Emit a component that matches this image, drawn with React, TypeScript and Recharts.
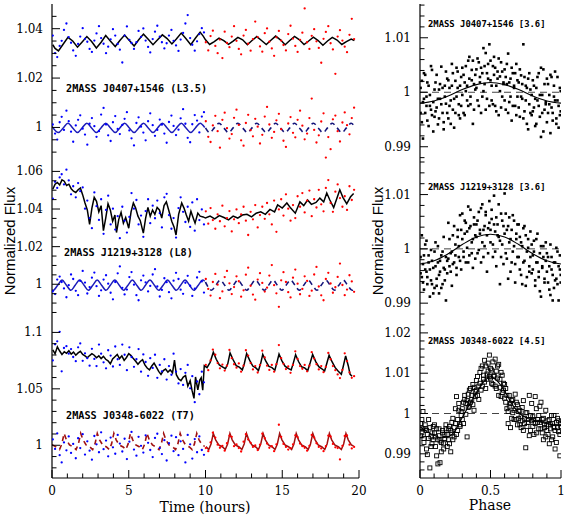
import React from 'react';
import { ComposedChart, Scatter, Line, XAxis, YAxis, ReferenceLine } from 'recharts';

// observation times (hours), first and second half of the run
const tBlue = [0.05, 0.2, 0.34, 0.5, 0.63, 0.78, 0.94, 1.09, 1.24, 1.38, 1.55, 1.7, 1.84, 2.0, 2.15, 2.3, 2.45, 2.6, 2.76, 2.9, 3.06, 3.2, 3.36, 3.52, 3.66, 3.82, 3.97, 4.12, 4.28, 4.42, 4.58, 4.73, 4.88, 5.04, 5.18, 5.34, 5.5, 5.64, 5.8, 5.95, 6.1, 6.26, 6.4, 6.56, 6.71, 6.86, 7.02, 7.16, 7.32, 7.47, 7.62, 7.78, 7.92, 8.08, 8.24, 8.38, 8.54, 8.69, 8.84, 9.0, 9.14, 9.3, 9.45, 9.6, 9.76, 9.9];
const tRed = [10.02, 10.18, 10.33, 10.48, 10.64, 10.79, 10.94, 11.1, 11.25, 11.4, 11.56, 11.71, 11.86, 12.02, 12.17, 12.32, 12.48, 12.63, 12.78, 12.94, 13.09, 13.24, 13.4, 13.55, 13.7, 13.86, 14.01, 14.16, 14.32, 14.47, 14.62, 14.78, 14.93, 15.08, 15.24, 15.39, 15.54, 15.7, 15.85, 16.0, 16.16, 16.31, 16.46, 16.62, 16.77, 16.92, 17.08, 17.23, 17.38, 17.54, 17.69, 17.84, 18.0, 18.15, 18.3, 18.46, 18.61, 18.76, 18.92, 19.07, 19.22, 19.38, 19.53, 19.68];

// ---- 2MASS J0407+1546 ----
const j0407BlueHi = [1.0372, 1.0301, 1.0285, 1.033, 1.0351, 1.0395, 1.0421, 1.0366, 1.0343, 1.0312, 1.029, 1.0338, 1.0368, 1.0402, 1.0359, 1.0347, 1.0318, 1.0306, 1.0352, 1.0381, 1.041, 1.0362, 1.0339, 1.0301, 1.0327, 1.0357, 1.0398, 1.0372, 1.0338, 1.0315, 1.0263, 1.0372, 1.0409, 1.0355, 1.0342, 1.0318, 1.0345, 1.0391, 1.0367, 1.0401, 1.0352, 1.0326, 1.0304, 1.0358, 1.0388, 1.0412, 1.0368, 1.0345, 1.032, 1.0341, 1.0372, 1.0395, 1.0351, 1.0332, 1.031, 1.0356, 1.0383, 1.0421, 1.0455, 1.0362, 1.0335, 1.0311, 1.0349, 1.0378, 1.0402, 1.0385];
const j0407RedHi = [1.0345, 1.0312, 1.037, 1.0392, 1.033, 1.0301, 1.0356, 1.0281, 1.0388, 1.0342, 1.0325, 1.0368, 1.041, 1.0351, 1.0318, 1.0296, 1.0372, 1.0395, 1.0339, 1.0311, 1.0358, 1.0429, 1.0366, 1.0328, 1.0307, 1.0382, 1.0401, 1.0347, 1.032, 1.029, 1.0365, 1.0391, 1.0352, 1.0334, 1.0312, 1.0378, 1.0412, 1.036, 1.033, 1.0306, 1.0355, 1.0384, 1.0482, 1.0345, 1.0318, 1.0371, 1.0398, 1.0349, 1.0322, 1.0262, 1.0359, 1.0387, 1.041, 1.0341, 1.0316, 1.0217, 1.0368, 1.0394, 1.0352, 1.0327, 1.0305, 1.0375, 1.044, 1.0358];
const j0407BlueLo = [1.0012, 0.9975, 0.9951, 1.0021, 1.0043, 0.999, 1.0068, 1.0025, 0.9983, 0.9942, 1.0008, 1.0031, 1.0049, 0.9995, 0.9971, 0.993, 1.0015, 1.0038, 1.0005, 0.9962, 0.9985, 1.0052, 1.0079, 1.0012, 0.9968, 0.9945, 1.0021, 1.0046, 0.9994, 0.9973, 1.001, 1.0035, 1.0062, 0.9988, 0.9956, 0.9927, 1.0018, 1.0041, 1.0003, 0.9979, 0.9948, 1.0025, 1.0057, 1.0009, 0.9966, 0.999, 1.0032, 1.0011, 0.9975, 0.9938, 1.0022, 1.0048, 1.0006, 0.9969, 0.9991, 1.0037, 1.0074, 1.0015, 0.9958, 0.994, 1.0013, 1.005, 1.0028, 0.998, 1.0044, 1.0062];
const j0407RedLo = [1.0025, 0.9962, 0.9941, 1.0008, 1.0047, 0.9985, 0.9918, 1.0031, 1.006, 0.9997, 0.9955, 0.9973, 1.0039, 1.0072, 1.001, 0.9948, 0.9926, 1.0018, 1.0051, 0.9989, 0.9964, 1.0035, 1.0003, 0.9935, 0.997, 1.0044, 1.0083, 1.0012, 0.9958, 0.9982, 1.0029, 1.0055, 0.9993, 0.9946, 0.9921, 1.0016, 1.0042, 0.9978, 0.996, 1.0031, 1.0068, 1.0007, 0.9952, 0.9975, 1.0038, 1.0117, 0.999, 0.9939, 0.9968, 1.0024, 1.0057, 0.9878, 0.9961, 0.9912, 1.0033, 1.0048, 0.9985, 0.9943, 1.002, 1.0061, 1.0009, 0.9972, 1.0038, 1.008];
const j0407Trend = [[0.05, 1.0335], [0.2, 1.032], [0.42, 1.031], [0.7, 1.0335], [1.04, 1.0365], [1.35, 1.035], [1.66, 1.0325], [1.95, 1.0345], [2.27, 1.0368], [2.58, 1.0348], [2.89, 1.0322], [3.2, 1.0345], [3.5, 1.0372], [3.8, 1.035], [4.12, 1.0328], [4.42, 1.0352], [4.73, 1.0374], [5.04, 1.0352], [5.35, 1.033], [5.65, 1.0355], [5.96, 1.0378], [6.27, 1.0357], [6.58, 1.0335], [6.88, 1.0355], [7.19, 1.0375], [7.5, 1.036], [7.81, 1.0338], [8.1, 1.0358], [8.42, 1.0382], [8.72, 1.036], [9.04, 1.0335], [9.35, 1.0362], [9.65, 1.0386], [9.85, 1.037], [10.0, 1.0355], [10.27, 1.0336], [10.57, 1.0348], [10.88, 1.0362], [11.19, 1.0352], [11.5, 1.0337], [11.8, 1.035], [12.11, 1.0365], [12.42, 1.0355], [12.73, 1.0335], [13.03, 1.0352], [13.34, 1.0368], [13.65, 1.0352], [13.96, 1.0336], [14.26, 1.0353], [14.57, 1.037], [14.88, 1.0355], [15.19, 1.0335], [15.49, 1.0352], [15.8, 1.0369], [16.1, 1.0356], [16.42, 1.0336], [16.72, 1.035], [17.03, 1.0366], [17.34, 1.0352], [17.65, 1.0333], [17.95, 1.035], [18.26, 1.0365], [18.57, 1.0354], [18.88, 1.0336], [19.18, 1.0348], [19.49, 1.0358], [19.7, 1.0352]];
const j0407FitA = [[0, 1.0004], [0.42, 0.9979], [0.73, 0.9998], [1.04, 1.0017], [1.35, 0.9998], [1.66, 0.9979], [1.96, 0.9998], [2.27, 1.0017], [2.58, 0.9998], [2.89, 0.9979], [3.19, 0.9998], [3.5, 1.0017], [3.81, 0.9998], [4.12, 0.9979], [4.42, 0.9998], [4.73, 1.0017], [5.04, 0.9998], [5.35, 0.9979], [5.65, 0.9998], [5.96, 1.0017], [6.27, 0.9998], [6.58, 0.9979], [6.88, 0.9998], [7.19, 1.0017], [7.5, 0.9998], [7.81, 0.9979], [8.11, 0.9998], [8.42, 1.0017], [8.73, 0.9998], [9.04, 0.9979], [9.34, 0.9998], [9.65, 1.0017], [9.95, 1.0]];
const j0407FitB = [[10.0, 0.9998], [10.27, 0.9979], [10.57, 0.9998], [10.88, 1.0017], [11.19, 0.9998], [11.5, 0.9979], [11.8, 0.9998], [12.11, 1.0017], [12.42, 0.9998], [12.73, 0.9979], [13.03, 0.9998], [13.34, 1.0017], [13.65, 0.9998], [13.96, 0.9979], [14.26, 0.9998], [14.57, 1.0017], [14.88, 0.9998], [15.19, 0.9979], [15.49, 0.9998], [15.8, 1.0017], [16.11, 0.9998], [16.42, 0.9979], [16.72, 0.9998], [17.03, 1.0017], [17.34, 0.9998], [17.65, 0.9979], [17.95, 0.9998], [18.26, 1.0017], [18.57, 0.9998], [18.88, 0.9979], [19.18, 0.9998], [19.49, 1.0017], [19.7, 1.0004]];

// ---- 2MASS J1219+3128 ----
const j1219BlueHi = [1.0455, 1.0545, 1.0512, 1.0568, 1.0585, 1.0531, 1.0609, 1.0552, 1.0478, 1.0521, 1.0462, 1.0538, 1.0495, 1.0515, 1.0402, 1.0445, 1.0352, 1.0298, 1.0488, 1.0415, 1.0342, 1.0452, 1.0268, 1.0395, 1.0471, 1.0318, 1.0402, 1.0291, 1.0362, 1.0245, 1.0412, 1.0338, 1.0275, 1.0358, 1.0485, 1.0402, 1.0448, 1.0318, 1.0365, 1.0252, 1.0389, 1.0452, 1.0325, 1.0418, 1.0351, 1.0445, 1.0378, 1.0302, 1.0462, 1.0481, 1.0368, 1.0295, 1.0352, 1.0248, 1.0405, 1.0462, 1.0385, 1.0331, 1.0412, 1.0305, 1.0435, 1.0285, 1.0452, 1.0341, 1.0398, 1.0318];
const j1219RedHi = [1.0388, 1.0322, 1.0405, 1.0341, 1.0295, 1.0372, 1.0335, 1.0418, 1.0308, 1.0352, 1.0389, 1.0281, 1.0345, 1.0398, 1.0325, 1.0372, 1.0412, 1.0338, 1.0262, 1.0385, 1.0345, 1.0421, 1.0302, 1.0368, 1.0412, 1.0348, 1.0432, 1.0372, 1.0318, 1.0445, 1.0279, 1.0398, 1.0452, 1.0365, 1.0478, 1.0402, 1.0338, 1.0421, 1.0352, 1.0468, 1.0412, 1.0485, 1.0382, 1.0445, 1.0498, 1.0362, 1.0452, 1.0408, 1.0502, 1.0425, 1.0388, 1.0512, 1.0554, 1.0432, 1.0385, 1.0492, 1.0531, 1.0458, 1.0412, 1.0468, 1.0395, 1.0521, 1.0448, 1.0502];
const j1219BlueLo = [0.9962, 0.9948, 1.0025, 1.0041, 1.0012, 0.9978, 0.9931, 0.9995, 1.0052, 1.0028, 0.9965, 0.9942, 1.0018, 1.0071, 1.0009, 0.9951, 0.9985, 1.0035, 1.0062, 0.999, 0.9938, 0.9968, 1.0025, 1.0048, 1.0003, 0.9955, 0.992, 1.0012, 1.0058, 1.0095, 0.9981, 0.9946, 0.9972, 1.0038, 1.0065, 0.9998, 0.9942, 0.9915, 1.0021, 1.0046, 1.001, 0.9962, 0.9991, 1.0052, 1.008, 0.9988, 0.9935, 0.997, 1.0032, 1.0011, 0.9958, 0.9925, 1.0019, 1.0061, 1.0028, 0.9971, 0.9949, 1.0008, 1.0045, 0.9992, 0.9938, 0.9977, 1.0036, 1.0066, 1.0015, 0.9956];
const j1219RedLo = [1.0028, 0.9975, 0.994, 1.0012, 1.0055, 0.9998, 0.9926, 0.9962, 1.0038, 1.0071, 1.0005, 0.9948, 0.9985, 1.0042, 1.0016, 0.9934, 0.9968, 1.0051, 1.0088, 0.9992, 0.9945, 0.9918, 1.0025, 1.0059, 1.0007, 0.9961, 0.9982, 1.0046, 1.0102, 0.9995, 0.9952, 0.988, 1.0021, 1.0064, 1.0012, 0.9958, 0.993, 1.0035, 1.0078, 1.0003, 0.9947, 0.9975, 1.0042, 1.0018, 0.9938, 0.9966, 1.0052, 1.0092, 0.9988, 0.9941, 0.9915, 1.0028, 1.0061, 1.0004, 0.9955, 0.9984, 1.0039, 1.011, 0.9996, 0.9942, 0.9972, 1.0048, 1.0015, 0.996];
const j1219Trend = [[0.05, 1.0505], [0.2, 1.0532], [0.35, 1.0541], [0.5, 1.0528], [0.65, 1.0555], [0.8, 1.0548], [0.95, 1.0525], [1.1, 1.0532], [1.25, 1.0508], [1.4, 1.0495], [1.55, 1.0488], [1.7, 1.0502], [1.85, 1.0512], [2.0, 1.0475], [2.15, 1.0432], [2.3, 1.0395], [2.45, 1.0318], [2.6, 1.0405], [2.75, 1.0462], [2.9, 1.0441], [3.05, 1.0385], [3.2, 1.0418], [3.35, 1.0285], [3.5, 1.0352], [3.65, 1.0428], [3.8, 1.0395], [3.95, 1.0335], [4.1, 1.0368], [4.2, 1.0275], [4.35, 1.0345], [4.5, 1.0382], [4.65, 1.0325], [4.8, 1.0355], [5.0, 1.0298], [5.15, 1.0385], [5.3, 1.0432], [5.45, 1.0405], [5.6, 1.0362], [5.75, 1.0338], [5.95, 1.0272], [6.1, 1.0352], [6.25, 1.0408], [6.4, 1.0362], [6.55, 1.0395], [6.7, 1.0372], [6.85, 1.0408], [7.0, 1.0395], [7.15, 1.0352], [7.3, 1.0418], [7.45, 1.0438], [7.6, 1.0395], [7.8, 1.0335], [7.95, 1.0305], [8.08, 1.0262], [8.25, 1.0372], [8.45, 1.0432], [8.6, 1.0405], [8.75, 1.0368], [8.9, 1.0335], [9.05, 1.0388], [9.2, 1.0352], [9.32, 1.0325], [9.5, 1.0378], [9.65, 1.0362], [9.85, 1.0358], [10.0, 1.0352], [10.3, 1.0362], [10.6, 1.0348], [10.9, 1.0365], [11.2, 1.0355], [11.5, 1.0342], [11.8, 1.0362], [12.1, 1.0352], [12.4, 1.0368], [12.7, 1.0372], [13.0, 1.0358], [13.3, 1.0378], [13.6, 1.0385], [13.9, 1.0372], [14.2, 1.0398], [14.5, 1.0385], [14.7, 1.0422], [15.0, 1.0405], [15.3, 1.0432], [15.55, 1.0405], [15.85, 1.0378], [16.15, 1.0438], [16.4, 1.0418], [16.65, 1.0448], [16.9, 1.0425], [17.2, 1.0435], [17.45, 1.0458], [17.7, 1.0438], [17.9, 1.0485], [18.1, 1.0448], [18.35, 1.0408], [18.55, 1.0455], [18.75, 1.0502], [18.95, 1.0462], [19.2, 1.0428], [19.45, 1.0465], [19.65, 1.0482]];
const j1219FitA = [[0, 0.997], [0.08, 0.9968], [0.37, 0.9995], [0.655, 1.0022], [0.94, 0.9995], [1.23, 0.9968], [1.51, 0.9995], [1.8, 1.0022], [2.09, 0.9995], [2.37, 0.9968], [2.66, 0.9995], [2.945, 1.0022], [3.23, 0.9995], [3.52, 0.9968], [3.8, 0.9995], [4.09, 1.0022], [4.38, 0.9995], [4.66, 0.9968], [4.95, 0.9995], [5.235, 1.0022], [5.52, 0.9995], [5.81, 0.9968], [6.09, 0.9995], [6.38, 1.0022], [6.67, 0.9995], [6.95, 0.9968], [7.24, 0.9995], [7.525, 1.0022], [7.81, 0.9995], [8.1, 0.9968], [8.38, 0.9995], [8.67, 1.0022], [8.96, 0.9995], [9.24, 0.9968], [9.53, 0.9995], [9.815, 1.0022], [9.95, 1.0016]];
const j1219FitB = [[10.0, 1.0012], [10.1, 0.9995], [10.39, 0.9968], [10.67, 0.9995], [10.96, 1.0022], [11.25, 0.9995], [11.53, 0.9968], [11.82, 0.9995], [12.105, 1.0022], [12.39, 0.9995], [12.68, 0.9968], [12.96, 0.9995], [13.25, 1.0022], [13.54, 0.9995], [13.82, 0.9968], [14.11, 0.9995], [14.395, 1.0022], [14.68, 0.9995], [14.97, 0.9968], [15.25, 0.9995], [15.54, 1.0022], [15.83, 0.9995], [16.11, 0.9968], [16.4, 0.9995], [16.685, 1.0022], [16.97, 0.9995], [17.26, 0.9968], [17.54, 0.9995], [17.83, 1.0022], [18.12, 0.9995], [18.4, 0.9968], [18.69, 0.9995], [18.975, 1.0022], [19.26, 0.9995], [19.55, 0.9968], [19.7, 0.998]];

// ---- 2MASS J0348-6022 ----
const j0348BlueHi = [1.0752, 1.0895, 1.0921, 1.1005, 1.0655, 1.0862, 1.0878, 1.0812, 1.0852, 1.0782, 1.0745, 1.0868, 1.0902, 1.0748, 1.0815, 1.0772, 1.0705, 1.0855, 1.0765, 1.0702, 1.0892, 1.0812, 1.0735, 1.0682, 1.0842, 1.0795, 1.0698, 1.0875, 1.0762, 1.0712, 1.0892, 1.0802, 1.0665, 1.0868, 1.0782, 1.0695, 1.0762, 1.0852, 1.0652, 1.0805, 1.0738, 1.0615, 1.0772, 1.0685, 1.0802, 1.0598, 1.0712, 1.0655, 1.0762, 1.0582, 1.0702, 1.0625, 1.0812, 1.0652, 1.0548, 1.0675, 1.0535, 1.0642, 1.0712, 1.0505, 1.0612, 1.0382, 1.0565, 1.0452, 1.0652, 1.0558];
const j0348RedHi = [1.0712, 1.0665, 1.0752, 1.0848, 1.0802, 1.0728, 1.0682, 1.0715, 1.0662, 1.0705, 1.0845, 1.0772, 1.0718, 1.0688, 1.0725, 1.0652, 1.0705, 1.0842, 1.0795, 1.0728, 1.0672, 1.0702, 1.0645, 1.0712, 1.0838, 1.0778, 1.0705, 1.0668, 1.0712, 1.0652, 1.0718, 1.0888, 1.0772, 1.0722, 1.0675, 1.0698, 1.0642, 1.0712, 1.0832, 1.0765, 1.0702, 1.0678, 1.0712, 1.0655, 1.0705, 1.0825, 1.0768, 1.0718, 1.0672, 1.0702, 1.0648, 1.0695, 1.0818, 1.0762, 1.0702, 1.0665, 1.0628, 1.0595, 1.0668, 1.0815, 1.0745, 1.0645, 1.0598, 1.0612];
const j0348BlueLo = [1.0052, 0.9968, 1.0105, 0.9912, 0.9848, 1.0025, 0.9955, 1.0078, 0.9932, 1.0012, 0.9885, 1.0062, 0.9975, 1.0098, 0.9918, 1.0035, 0.9952, 0.9872, 1.0082, 1.0008, 0.9938, 1.0115, 0.9965, 1.0042, 0.9902, 1.0068, 0.9982, 0.9925, 1.0092, 1.0015, 0.9945, 1.0058, 0.9878, 1.0032, 1.0118, 0.9962, 0.9908, 1.0075, 0.9995, 0.9935, 1.0088, 1.0022, 0.9958, 0.9895, 1.0065, 1.0102, 0.9975, 0.9922, 1.0045, 0.9865, 1.0018, 1.0085, 0.9948, 1.0072, 0.9912, 1.0035, 0.9968, 0.9848, 1.0092, 1.0008, 0.9882, 1.0055, 0.9938, 1.0078, 0.9958, 0.9915];
const j0348RedLo = [0.9975, 0.9948, 1.0025, 1.0112, 1.0068, 1.0005, 0.9978, 0.9995, 0.9952, 1.0018, 1.0085, 1.0075, 0.9992, 1.0008, 0.9975, 0.9945, 1.0032, 1.0098, 1.0052, 1.0022, 0.9985, 0.9998, 0.9958, 1.0005, 1.0102, 1.0062, 1.0015, 0.9978, 0.9992, 0.9948, 1.0008, 1.0182, 1.0075, 1.0012, 0.9985, 0.9962, 0.9975, 1.0008, 1.0088, 1.0072, 1.0015, 0.9992, 0.9978, 0.9952, 0.9995, 1.0092, 1.0068, 1.0018, 0.9985, 0.9972, 0.9948, 0.9992, 1.0085, 1.0078, 1.0012, 0.9982, 0.9975, 0.9875, 0.9995, 1.0082, 1.0088, 1.0005, 0.9972, 0.9985];
const j0348Trend = [[0.05, 1.0845], [0.2, 1.0812], [0.35, 1.0872], [0.5, 1.0835], [0.65, 1.0805], [0.8, 1.0828], [0.95, 1.0815], [1.1, 1.0838], [1.25, 1.0808], [1.4, 1.0825], [1.55, 1.0798], [1.7, 1.0818], [1.85, 1.0832], [2.0, 1.0805], [2.15, 1.0792], [2.3, 1.0775], [2.45, 1.0795], [2.6, 1.0812], [2.75, 1.0798], [2.9, 1.0775], [3.05, 1.0792], [3.2, 1.0768], [3.35, 1.0788], [3.5, 1.0762], [3.65, 1.0748], [3.8, 1.0722], [3.95, 1.0765], [4.1, 1.0785], [4.25, 1.0805], [4.4, 1.0768], [4.55, 1.0792], [4.7, 1.0752], [4.85, 1.0778], [5.0, 1.0812], [5.15, 1.0795], [5.3, 1.0768], [5.45, 1.0745], [5.6, 1.0718], [5.75, 1.0742], [5.9, 1.0758], [6.05, 1.0712], [6.2, 1.0685], [6.35, 1.0668], [6.5, 1.0702], [6.65, 1.0728], [6.8, 1.0692], [6.95, 1.0655], [7.1, 1.0628], [7.25, 1.0662], [7.4, 1.0675], [7.55, 1.0648], [7.7, 1.0668], [7.85, 1.0642], [7.98, 1.0755], [8.1, 1.0625], [8.25, 1.0588], [8.4, 1.0572], [8.55, 1.0605], [8.7, 1.0618], [8.85, 1.0525], [9.0, 1.0572], [9.12, 1.0488], [9.25, 1.0415], [9.35, 1.0605], [9.5, 1.0492], [9.62, 1.0575], [9.72, 1.0598], [9.82, 1.0488], [9.92, 1.0705], [10.1, 1.0688], [10.3, 1.0735], [10.51, 1.0825], [10.7, 1.0762], [10.9, 1.0712], [11.1, 1.0695], [11.3, 1.0678], [11.45, 1.0722], [11.6, 1.0818], [11.8, 1.0758], [12.0, 1.0705], [12.2, 1.0692], [12.4, 1.0668], [12.53, 1.0725], [12.68, 1.0812], [12.88, 1.0752], [13.08, 1.0702], [13.28, 1.0685], [13.45, 1.0662], [13.6, 1.0728], [13.73, 1.0805], [13.93, 1.0745], [14.13, 1.0698], [14.33, 1.0688], [14.52, 1.0665], [14.65, 1.0732], [14.79, 1.0808], [14.98, 1.0748], [15.18, 1.0701], [15.38, 1.0682], [15.58, 1.0668], [15.72, 1.0728], [15.87, 1.0802], [16.06, 1.0742], [16.26, 1.0695], [16.46, 1.0686], [16.66, 1.0662], [16.83, 1.0735], [16.98, 1.0805], [17.18, 1.0741], [17.38, 1.0696], [17.58, 1.0678], [17.76, 1.0658], [17.9, 1.0725], [18.05, 1.0798], [18.25, 1.0738], [18.45, 1.0688], [18.65, 1.0655], [18.85, 1.0628], [18.98, 1.0702], [19.13, 1.0792], [19.3, 1.0705], [19.42, 1.0628], [19.55, 1.0612]];
const j0348FitA = [[0, 1.0006], [0.25, 0.9986], [0.49, 0.9962], [0.64, 1.0012], [0.79, 1.0105], [0.94, 1.0048], [1.14, 1.0003], [1.39, 0.9985], [1.57, 0.9962], [1.72, 1.0012], [1.87, 1.0105], [2.02, 1.0048], [2.22, 1.0003], [2.47, 0.9985], [2.65, 0.9962], [2.8, 1.0012], [2.95, 1.0105], [3.1, 1.0048], [3.3, 1.0003], [3.55, 0.9985], [3.73, 0.9962], [3.88, 1.0012], [4.03, 1.0105], [4.18, 1.0048], [4.38, 1.0003], [4.63, 0.9985], [4.81, 0.9962], [4.96, 1.0012], [5.11, 1.0105], [5.26, 1.0048], [5.46, 1.0003], [5.71, 0.9985], [5.89, 0.9962], [6.04, 1.0012], [6.19, 1.0105], [6.34, 1.0048], [6.54, 1.0003], [6.79, 0.9985], [6.97, 0.9962], [7.12, 1.0012], [7.27, 1.0105], [7.42, 1.0048], [7.62, 1.0003], [7.87, 0.9985], [8.05, 0.9962], [8.2, 1.0012], [8.35, 1.0105], [8.5, 1.0048], [8.7, 1.0003], [8.95, 0.9985], [9.13, 0.9962], [9.28, 1.0012], [9.43, 1.0105], [9.58, 1.0048], [9.78, 1.0003], [9.95, 0.999]];
const j0348FitB = [[10.03, 0.9988], [10.21, 0.9962], [10.36, 1.0012], [10.51, 1.0105], [10.66, 1.0048], [10.86, 1.0003], [11.11, 0.9985], [11.29, 0.9962], [11.44, 1.0012], [11.59, 1.0105], [11.74, 1.0048], [11.94, 1.0003], [12.19, 0.9985], [12.37, 0.9962], [12.52, 1.0012], [12.67, 1.0105], [12.82, 1.0048], [13.02, 1.0003], [13.27, 0.9985], [13.45, 0.9962], [13.6, 1.0012], [13.75, 1.0105], [13.9, 1.0048], [14.1, 1.0003], [14.35, 0.9985], [14.53, 0.9962], [14.68, 1.0012], [14.83, 1.0105], [14.98, 1.0048], [15.18, 1.0003], [15.43, 0.9985], [15.61, 0.9962], [15.76, 1.0012], [15.91, 1.0105], [16.06, 1.0048], [16.26, 1.0003], [16.51, 0.9985], [16.69, 0.9962], [16.84, 1.0012], [16.99, 1.0105], [17.14, 1.0048], [17.34, 1.0003], [17.59, 0.9985], [17.77, 0.9962], [17.92, 1.0012], [18.07, 1.0105], [18.22, 1.0048], [18.42, 1.0003], [18.67, 0.9985], [18.85, 0.9962], [19.0, 1.0012], [19.15, 1.0105], [19.3, 1.0048], [19.5, 1.0003], [19.65, 0.9992]];

// phase-folded points (shared phase grid)
const phaseGrid = [0.004, 0.013, 0.021, 0.028, 0.037, 0.046, 0.052, 0.061, 0.07, 0.078, 0.085, 0.094, 0.103, 0.11, 0.118, 0.127, 0.135, 0.142, 0.151, 0.16, 0.168, 0.176, 0.184, 0.193, 0.201, 0.209, 0.218, 0.226, 0.233, 0.242, 0.251, 0.259, 0.267, 0.275, 0.284, 0.292, 0.3, 0.309, 0.317, 0.325, 0.334, 0.342, 0.35, 0.358, 0.367, 0.375, 0.383, 0.392, 0.4, 0.408, 0.417, 0.425, 0.433, 0.442, 0.45, 0.458, 0.466, 0.475, 0.483, 0.492, 0.5, 0.508, 0.517, 0.525, 0.533, 0.541, 0.55, 0.558, 0.567, 0.575, 0.583, 0.592, 0.6, 0.608, 0.616, 0.625, 0.633, 0.642, 0.65, 0.658, 0.667, 0.675, 0.683, 0.691, 0.7, 0.708, 0.717, 0.725, 0.733, 0.741, 0.75, 0.758, 0.767, 0.775, 0.783, 0.792, 0.8, 0.808, 0.817, 0.825, 0.833, 0.842, 0.85, 0.858, 0.867, 0.875, 0.883, 0.892, 0.9, 0.908, 0.917, 0.925, 0.933, 0.941, 0.95, 0.958, 0.967, 0.975, 0.983, 0.992, 0.998];

const j0407PhaseA = [0.9962, 1.0021, 0.9915, 0.9988, 1.0032, 0.9975, 0.9948, 1.0012, 0.9995, 0.9968, 1.0041, 0.9982, 0.9955, 1.0018, 0.9972, 0.9941, 1.0005, 0.9988, 1.0047, 0.9962, 0.9932, 1.0012, 0.9979, 1.0025, 0.9952, 1.0008, 0.9985, 1.0052, 0.9968, 0.9935, 1.0021, 0.9992, 1.0038, 0.9958, 1.0012, 0.9975, 1.0045, 0.9962, 1.0018, 1.0002, 0.9985, 1.0058, 1.0025, 0.9978, 1.0041, 0.9942, 1.0015, 1.0032, 1.0008, 1.0062, 0.9975, 1.0028, 1.0045, 0.9992, 1.0081, 1.0015, 0.9968, 1.0035, 1.0052, 1.0088, 1.0022, 0.9985, 1.0048, 1.0065, 0.9975, 1.0012, 1.0038, 0.9958, 1.0029, 1.0055, 0.9992, 1.0018, 1.0042, 0.9968, 1.0015, 1.0071, 0.9982, 1.0025, 0.9948, 1.0035, 1.0008, 0.9975, 1.0052, 0.9992, 1.0018, 0.9955, 1.0031, 0.9988, 1.0088, 0.9965, 1.0012, 0.9942, 1.0025, 0.9978, 1.0005, 0.9958, 1.0022, 0.9972, 0.9938, 1.0008, 0.9985, 1.0035, 0.9955, 0.9918, 0.9995, 1.0042, 0.9968, 0.9982, 0.9945, 1.0015, 0.9978, 0.9925, 1.0028, 0.9962, 0.9992, 1.0038, 0.9952, 0.9985, 0.9935, 1.0008, 0.9965];
const j0407PhaseB = [1.0008, 0.9945, 0.9982, 1.0035, 0.9962, 0.9992, 1.0018, 0.9938, 0.9975, 1.0048, 0.9958, 0.9928, 1.0005, 0.9965, 1.0032, 0.9988, 0.9952, 1.0015, 0.9978, 1.0008, 0.9945, 0.9992, 1.0038, 0.9962, 1.0022, 0.9975, 0.9942, 1.0012, 1.0035, 0.9988, 0.9962, 1.0045, 1.0008, 0.9978, 0.9952, 1.0028, 0.9995, 1.0032, 0.9958, 1.0048, 1.0012, 0.9975, 1.0065, 0.9992, 1.0022, 1.0058, 0.9968, 1.0005, 1.0042, 0.9985, 1.0055, 1.0018, 0.9962, 1.0035, 1.0002, 1.0048, 1.0072, 0.9988, 1.0025, 0.9975, 1.0058, 1.0012, 0.9978, 1.0032, 1.0045, 0.9965, 1.0025, 1.0062, 1.0002, 0.9972, 1.0038, 1.0015, 0.9985, 1.0028, 1.0052, 0.9962, 1.0018, 0.9992, 1.0045, 0.9975, 1.0012, 1.0035, 0.9958, 1.0022, 0.9972, 1.0042, 0.9992, 1.0015, 0.9952, 1.0028, 0.9985, 1.0008, 0.9932, 1.0035, 0.9962, 0.9995, 0.9965, 1.0012, 0.9988, 0.9942, 1.0028, 0.9975, 0.9995, 1.0045, 0.9962, 0.9928, 1.0015, 0.9978, 1.0025, 0.9962, 0.9995, 1.0032, 0.9972, 0.9948, 1.0012, 0.9985, 0.9942, 1.0028, 0.9975, 0.9958, 1.0002];
const j0407PhaseFit = [[0, 0.998], [0.1, 0.9984], [0.2, 0.9993], [0.3, 1.0005], [0.4, 1.0014], [0.5, 1.0018], [0.6, 1.0014], [0.7, 1.0005], [0.8, 0.9993], [0.9, 0.9984], [1, 0.998]];

const j1219PhaseA = [0.9955, 1.0025, 0.9938, 0.9988, 0.9962, 1.0015, 0.9948, 0.9975, 0.9912, 0.9998, 0.9935, 0.9965, 0.9928, 1.0012, 0.9945, 0.9975, 0.9918, 0.9958, 0.9988, 0.9935, 1.0022, 0.9962, 0.9905, 0.9978, 1.0048, 0.9968, 0.9992, 0.9932, 1.0025, 0.9975, 1.0008, 0.9952, 1.0035, 0.9985, 1.0062, 0.9962, 1.0018, 0.9995, 1.0052, 0.9975, 1.0032, 1.0078, 0.9988, 1.0042, 1.0012, 0.9965, 1.0058, 1.0025, 1.0045, 0.9992, 1.0068, 1.0028, 0.9975, 1.0082, 1.0035, 1.0005, 1.0062, 0.9958, 1.0038, 1.0088, 1.0012, 1.0055, 0.9985, 1.0098, 1.0032, 0.9968, 1.0045, 1.0022, 0.9935, 1.0065, 1.0008, 1.0042, 1.0102, 0.9992, 1.0035, 0.9945, 1.0058, 1.0018, 0.9975, 1.0062, 1.0005, 0.9938, 1.0028, 0.9985, 1.0045, 0.9962, 1.0012, 0.9935, 1.0038, 0.9978, 1.0025, 0.9948, 1.0002, 0.9968, 1.0032, 0.9955, 0.9988, 1.0015, 0.9942, 0.9975, 1.0028, 0.9958, 0.9922, 1.0005, 0.9965, 0.9985, 0.9938, 1.0012, 0.9958, 0.9985, 0.9925, 1.0008, 0.9962, 0.9905, 0.9975, 0.9942, 1.0002, 0.9935, 0.9968, 0.9988, 0.9952];
const j1219PhaseB = [0.9985, 0.9948, 0.9972, 0.9925, 1.0008, 0.9958, 0.9935, 0.9988, 0.9962, 0.9942, 0.9978, 0.9918, 0.9995, 0.9968, 0.9932, 1.0005, 0.9952, 0.9978, 0.9928, 0.9995, 0.9965, 0.9942, 0.9985, 0.9955, 0.9982, 1.0018, 0.9958, 0.9995, 0.9972, 1.0042, 0.9988, 0.9965, 1.0022, 1.0005, 0.9978, 1.0035, 1.0065, 0.9985, 1.0028, 1.0048, 1.0002, 0.9975, 1.0038, 1.0072, 0.9992, 1.0018, 1.0045, 0.9982, 1.0022, 1.0052, 0.9998, 1.0035, 1.0075, 1.0012, 0.9985, 1.0042, 1.0068, 1.0025, 0.9992, 1.0048, 1.0035, 1.0072, 1.0008, 1.0045, 0.9995, 1.0058, 1.0025, 1.0082, 1.0015, 0.9985, 1.0052, 0.9972, 1.0028, 1.0065, 0.9982, 1.0042, 1.0012, 0.9958, 1.0035, 0.9995, 1.0052, 0.9972, 1.0018, 1.0045, 0.9985, 1.0022, 0.9952, 1.0005, 0.9975, 1.0042, 0.9932, 0.9995, 1.0018, 0.9958, 0.9985, 1.0008, 0.9962, 0.9995, 0.9932, 1.0018, 0.9975, 0.9948, 0.9992, 0.9912, 0.9968, 1.0005, 0.9945, 0.9978, 0.9992, 0.9938, 0.9968, 0.9915, 0.9985, 0.9952, 0.9928, 0.9975, 0.9945, 0.9995, 0.9905, 0.9962, 0.9938];
const j1219PhaseFit = [[0, 0.9972], [0.1, 0.9978], [0.2, 0.9991], [0.3, 1.0008], [0.4, 1.0022], [0.5, 1.0027], [0.6, 1.0022], [0.7, 1.0008], [0.8, 0.9991], [0.9, 0.9978], [1, 0.9972]];

const j0348PhaseA = [0.9975, 0.9952, 1.0005, 0.9938, 0.9962, 0.9912, 0.9948, 0.9985, 0.9865, 0.9942, 0.9925, 0.9968, 0.9952, 0.9918, 0.9962, 0.9875, 0.9945, 0.9932, 0.9905, 0.9958, 0.9925, 0.9948, 0.9962, 0.9918, 0.9935, 0.9968, 0.9905, 0.9952, 0.9988, 0.9942, 0.9975, 1.0042, 0.9958, 1.0008, 0.9972, 0.9995, 1.0012, 0.9975, 1.0035, 1.0025, 0.9942, 1.0048, 1.0018, 1.0062, 1.0035, 1.0072, 1.0008, 1.0055, 1.0082, 1.0045, 1.0068, 1.0102, 1.0058, 1.0118, 1.0085, 1.0132, 1.0062, 1.0098, 1.0125, 1.0145, 1.0088, 1.0108, 1.0072, 1.0095, 1.0135, 1.0062, 1.0118, 1.0045, 1.0085, 1.0102, 1.0052, 1.0075, 1.0038, 1.0062, 1.0012, 0.9975, 1.0045, 1.0025, 0.9988, 1.0035, 1.0008, 1.0048, 0.9985, 1.0022, 1.0005, 0.9972, 0.9992, 1.0015, 0.9958, 0.9988, 0.9915, 1.0002, 0.9978, 0.9945, 0.9995, 1.0025, 0.9968, 0.9985, 1.0042, 0.9952, 0.9978, 0.9995, 1.0018, 0.9962, 0.9985, 0.9935, 0.9972, 1.0008, 0.9958, 0.9982, 0.9925, 0.9972, 0.9995, 0.9942, 0.9965, 0.9912, 0.9978, 0.9988, 0.9955, 0.9895, 0.9975];
const j0348PhaseB = [0.9945, 0.9985, 0.9962, 0.9928, 0.9972, 0.9958, 0.9898, 0.9938, 0.9965, 0.9918, 0.9952, 0.9935, 0.9972, 0.9942, 0.9895, 0.9935, 0.9962, 0.9878, 0.9928, 0.9952, 0.9912, 0.9938, 0.9972, 0.9948, 0.9962, 0.9925, 0.9958, 0.9978, 0.9935, 0.9965, 1.0012, 0.9948, 0.9985, 1.0025, 0.9968, 1.0005, 0.9985, 1.0028, 1.0045, 0.9998, 1.0032, 1.0015, 1.0058, 1.0028, 1.0045, 1.0022, 1.0065, 1.0042, 1.0058, 1.0092, 1.0035, 1.0075, 1.0112, 1.0068, 1.0095, 1.0078, 1.0118, 1.0085, 1.0105, 1.0092, 1.0112, 1.0075, 1.0128, 1.0092, 1.0068, 1.0105, 1.0088, 1.0122, 1.0065, 1.0042, 1.0095, 1.0058, 1.0072, 1.0028, 1.0045, 1.0005, 1.0018, 0.9965, 1.0032, 1.0002, 0.9985, 1.0012, 1.0028, 0.9972, 0.9988, 1.0008, 0.9965, 0.9982, 1.0032, 0.9975, 1.0002, 0.9968, 0.9985, 1.0045, 0.9958, 0.9982, 0.9992, 0.9948, 0.9975, 1.0012, 0.9985, 0.9962, 0.9978, 1.0028, 0.9952, 0.9988, 0.9965, 0.9942, 0.9972, 0.9948, 0.9985, 0.9962, 0.9935, 0.9975, 0.9995, 0.9958, 0.9928, 0.9965, 0.9982, 0.9948, 0.9968];
const j0348PhaseFit = [[0, 0.9967], [0.05, 0.9955], [0.1, 0.9946], [0.15, 0.994], [0.2, 0.9942], [0.25, 0.9958], [0.3, 0.999], [0.35, 1.0022], [0.4, 1.0052], [0.45, 1.0078], [0.5, 1.0091], [0.55, 1.008], [0.6, 1.0056], [0.65, 1.0025], [0.7, 1.0002], [0.75, 0.999], [0.8, 0.9984], [0.85, 0.9979], [0.9, 0.9975], [0.95, 0.9972], [1, 0.997]];

// axis ticks
const hourTicks = [0, 1, 2, 3, 4, 5, 6, 7, 8, 9, 10, 11, 12, 13, 14, 15, 16, 17, 18, 19, 20];
const hourMajors = [0, 5, 10, 15, 20];
const phaseTicks = [0, 0.1, 0.2, 0.3, 0.4, 0.5, 0.6, 0.7, 0.8, 0.9, 1];
const phaseMajors = [0, 0.5, 1];
const j0407Ticks = [0.99, 0.995, 1, 1.005, 1.01, 1.015, 1.02, 1.025, 1.03, 1.035, 1.04, 1.045];
const j0407Majors = [1, 1.02, 1.04];
const j1219Ticks = [0.985, 0.99, 0.995, 1, 1.005, 1.01, 1.015, 1.02, 1.025, 1.03, 1.035, 1.04, 1.045, 1.05, 1.055, 1.06];
const j1219Majors = [1, 1.02, 1.04, 1.06];
const j0348Ticks = [0.98, 0.99, 1, 1.01, 1.02, 1.03, 1.04, 1.05, 1.06, 1.07, 1.08, 1.09, 1.1];
const j0348Majors = [1, 1.05, 1.1];
const phaseYTicks = [0.988, 0.99, 0.992, 0.994, 0.996, 0.998, 1, 1.002, 1.004, 1.006, 1.008, 1.01, 1.012, 1.014, 1.016];
const phaseYTicks2 = [0.986, 0.988, 0.99, 0.992, 0.994, 0.996, 0.998, 1, 1.002, 1.004, 1.006, 1.008, 1.01, 1.012, 1.014, 1.016, 1.018, 1.02, 1.022];
const phaseYMajors = [0.99, 1, 1.01];
const phaseYMajors2 = [0.99, 1, 1.01, 1.02];

const zip = (ts: number[], ys: number[]) =>
  ys.slice(0, ts.length).map((y, i) => ({ x: ts[i], y }));
const pts = (p: number[][]) => p.map(([x, y]) => ({ x, y }));

const PAD = 3;
const serif = 'DejaVu Serif';
const frame = { stroke: '#000', strokeWidth: 1.2 };

const isMajor = (v: number, majors: number[]) => majors.some((m) => Math.abs(m - v) < 1e-6);
const fmt = (v: number) => String(Number(v.toFixed(3)));

// inward ticks, labels only on majors
const axisTick = (side: string, majors: number[], labels: boolean, gap: number) => (props: any) => {
  const { x, y, payload } = props;
  const v = payload.value;
  const major = isMajor(v, majors);
  const len = major ? 8 : 4.5;
  let seg = null;
  let label = null;
  if (side === 'left') {
    const ax = x + gap;
    seg = <line x1={ax} x2={ax + len} y1={y} y2={y} />;
    if (labels && major) label = <text x={x} y={y} textAnchor="end" dominantBaseline="central">{fmt(v)}</text>;
  } else if (side === 'right') {
    seg = <line x1={x - len} x2={x} y1={y} y2={y} />;
  } else if (side === 'top') {
    seg = <line x1={x} x2={x} y1={y} y2={y + len} />;
  } else {
    const ay = y - gap;
    seg = <line x1={x} x2={x} y1={ay - len} y2={ay} />;
    if (labels && major) label = <text x={x} y={y} textAnchor="middle" dominantBaseline="central">{fmt(v)}</text>;
  }
  return (
    <g stroke="none" fill="#000" fontFamily={serif} fontSize={12}>
      <g stroke="#000" strokeWidth={1}>{seg}</g>
      {label}
    </g>
  );
};

const dot = (color: string) => (p: any) => <circle cx={p.cx} cy={p.cy} r={1.15} fill={color} />;
const square = (p: any) => <rect x={p.cx - 1.3} y={p.cy - 1.3} width={2.6} height={2.6} fill="#000" />;
const openSquare = (p: any) => (
  <rect x={p.cx - 2} y={p.cy - 2} width={4} height={4} fill="none" stroke="#000" strokeWidth={0.9} />
);

type PanelProps = {
  plotLeft: number; plotTop: number; plotW: number; plotH: number;
  leftW: number; bottomH: number; padR: number;
  xDomain: number[]; yDomain: number[];
  xTicks: number[]; xMajors: number[]; yTicks: number[]; yMajors: number[];
  xLabels: boolean; children?: React.ReactNode;
};

const Panel = (p: PanelProps) => (
  <div style={{ position: 'absolute', left: p.plotLeft - p.leftW, top: p.plotTop - PAD }}>
    <ComposedChart width={p.leftW + p.plotW + p.padR} height={PAD + p.plotH + p.bottomH} margin={{ top: PAD, right: p.padR, bottom: 0, left: 0 }}>
      <XAxis xAxisId="b" dataKey="x" type="number" domain={p.xDomain} ticks={p.xTicks} interval={0} height={p.bottomH}
        tickSize={0} tickMargin={13} tickLine={false} axisLine={frame} allowDataOverflow
        tick={axisTick('bottom', p.xMajors, p.xLabels, 13)} />
      <XAxis xAxisId="t" orientation="top" type="number" domain={p.xDomain} ticks={p.xTicks} interval={0} height={0}
        tickSize={0} tickMargin={0} tickLine={false} axisLine={frame} allowDataOverflow
        tick={axisTick('top', p.xMajors, false, 0)} />
      <YAxis yAxisId="l" dataKey="y" type="number" domain={p.yDomain} ticks={p.yTicks} interval={0} width={p.leftW}
        tickSize={0} tickMargin={9} tickLine={false} axisLine={frame} allowDataOverflow
        tick={axisTick('left', p.yMajors, true, 9)} />
      <YAxis yAxisId="r" orientation="right" type="number" domain={p.yDomain} ticks={p.yTicks} interval={0} width={0}
        tickSize={0} tickMargin={0} tickLine={false} axisLine={frame} allowDataOverflow
        tick={axisTick('right', p.yMajors, false, 0)} />
      {p.children}
    </ComposedChart>
  </div>
);

const ax = { xAxisId: 'b', yAxisId: 'l', isAnimationActive: false };

const Note = ({ x, y, size, text }: { x: number; y: number; size: number; text: string }) => (
  <div style={{ position: 'absolute', left: x, top: y, transform: 'translateY(-50%)', fontFamily: 'DejaVu Sans Mono', fontWeight: 'bold', fontSize: size, whiteSpace: 'nowrap', lineHeight: 1 }}>
    {text}
  </div>
);

const Title = ({ x, y, text, rotate, font, size }: { x: number; y: number; text: string; rotate?: boolean; font: string; size: number }) => (
  <div style={{ position: 'absolute', left: x, top: y, transform: `translate(-50%, -50%)${rotate ? ' rotate(-90deg)' : ''}`, fontFamily: font, fontSize: size, whiteSpace: 'nowrap', lineHeight: 1 }}>
    {text}
  </div>
);

const L = { plotLeft: 52, plotW: 307, plotH: 158, leftW: 52, padR: 14, xDomain: [0, 20], xTicks: hourTicks, xMajors: hourMajors };
const R = { plotLeft: 420, plotW: 141, plotH: 158, leftW: 45, padR: 7, xDomain: [0, 1], xTicks: phaseTicks, xMajors: phaseMajors };

const App = () => (
  <div style={{ position: 'absolute', left: 0, top: 0, width: 568, height: 520, background: '#fff', overflow: 'hidden' }}>
    <Panel {...L} plotTop={4} bottomH={0} yDomain={[0.986, 1.05]} yTicks={j0407Ticks} yMajors={j0407Majors} xLabels={false}>
      <Scatter {...ax} data={zip(tBlue, j0407BlueHi)} shape={dot('#0000ff')} />
      <Scatter {...ax} data={zip(tRed, j0407RedHi)} shape={dot('#ff0000')} />
      <Line {...ax} data={pts(j0407Trend)} dataKey="y" type="linear" dot={false} stroke="#000" strokeWidth={1.5} />
      <Scatter {...ax} data={zip(tBlue, j0407BlueLo)} shape={dot('#0000ff')} />
      <Scatter {...ax} data={zip(tRed, j0407RedLo)} shape={dot('#ff0000')} />
      <Line {...ax} data={pts(j0407FitA)} dataKey="y" type="monotone" dot={false} stroke="#1c1cb8" strokeWidth={1.5} />
      <Line {...ax} data={pts(j0407FitB)} dataKey="y" type="monotone" dot={false} stroke="#14147a" strokeWidth={1.6} strokeDasharray="5 4" />
    </Panel>
    <Panel {...L} plotTop={162} bottomH={0} yDomain={[0.981, 1.065]} yTicks={j1219Ticks} yMajors={j1219Majors} xLabels={false}>
      <Scatter {...ax} data={zip(tBlue, j1219BlueHi)} shape={dot('#0000ff')} />
      <Scatter {...ax} data={zip(tRed, j1219RedHi)} shape={dot('#ff0000')} />
      <Line {...ax} data={pts(j1219Trend)} dataKey="y" type="linear" dot={false} stroke="#000" strokeWidth={1.5} />
      <Scatter {...ax} data={zip(tBlue, j1219BlueLo)} shape={dot('#0000ff')} />
      <Scatter {...ax} data={zip(tRed, j1219RedLo)} shape={dot('#ff0000')} />
      <Line {...ax} data={pts(j1219FitA)} dataKey="y" type="monotone" dot={false} stroke="#1c1cb8" strokeWidth={1.5} />
      <Line {...ax} data={pts(j1219FitB)} dataKey="y" type="monotone" dot={false} stroke="#14147a" strokeWidth={1.6} strokeDasharray="5 4" />
    </Panel>
    <Panel {...L} plotTop={320} bottomH={28} yDomain={[0.971, 1.111]} yTicks={j0348Ticks} yMajors={j0348Majors} xLabels={true}>
      <Scatter {...ax} data={zip(tBlue, j0348BlueHi)} shape={dot('#0000ff')} />
      <Scatter {...ax} data={zip(tRed, j0348RedHi)} shape={dot('#ff0000')} />
      <Line {...ax} data={pts(j0348Trend)} dataKey="y" type="linear" dot={false} stroke="#000" strokeWidth={1.5} />
      <Scatter {...ax} data={zip(tBlue, j0348BlueLo)} shape={dot('#0000ff')} />
      <Scatter {...ax} data={zip(tRed, j0348RedLo)} shape={dot('#ff0000')} />
      <Line {...ax} data={pts(j0348FitA)} dataKey="y" type="linear" dot={false} stroke="#a01010" strokeWidth={1.6} strokeDasharray="5 4" />
      <Line {...ax} data={pts(j0348FitB)} dataKey="y" type="linear" dot={false} stroke="#a01010" strokeWidth={1.5} />
    </Panel>

    <Panel {...R} plotTop={4} bottomH={0} yDomain={[0.9872, 1.0162]} yTicks={phaseYTicks} yMajors={phaseYMajors} xLabels={false}>
      <ReferenceLine xAxisId="b" yAxisId="l" y={1} stroke="#444" strokeWidth={1} strokeDasharray="7 5" />
      <Scatter {...ax} data={zip(phaseGrid, j0407PhaseA)} shape={square} />
      <Scatter {...ax} data={zip(phaseGrid, j0407PhaseB)} shape={square} />
      <Line {...ax} data={pts(j0407PhaseFit)} dataKey="y" type="monotone" dot={false} stroke="#000" strokeWidth={1.1} />
    </Panel>
    <Panel {...R} plotTop={162} bottomH={0} yDomain={[0.9869, 1.016]} yTicks={phaseYTicks} yMajors={phaseYMajors} xLabels={false}>
      <ReferenceLine xAxisId="b" yAxisId="l" y={1} stroke="#444" strokeWidth={1} strokeDasharray="7 5" />
      <Scatter {...ax} data={zip(phaseGrid, j1219PhaseA)} shape={square} />
      <Scatter {...ax} data={zip(phaseGrid, j1219PhaseB)} shape={square} />
      <Line {...ax} data={pts(j1219PhaseFit)} dataKey="y" type="monotone" dot={false} stroke="#000" strokeWidth={1.1} />
    </Panel>
    <Panel {...R} plotTop={320} bottomH={28} yDomain={[0.984, 1.0232]} yTicks={phaseYTicks2} yMajors={phaseYMajors2} xLabels={true}>
      <ReferenceLine xAxisId="b" yAxisId="l" y={1} stroke="#444" strokeWidth={1} strokeDasharray="7 5" />
      <Scatter {...ax} data={zip(phaseGrid, j0348PhaseA)} shape={openSquare} />
      <Scatter {...ax} data={zip(phaseGrid, j0348PhaseB)} shape={openSquare} />
      <Line {...ax} data={pts(j0348PhaseFit)} dataKey="y" type="monotone" dot={false} stroke="#000" strokeWidth={1.1} />
    </Panel>

    <Note x={66} y={89} size={10.2} text="2MASS J0407+1546 (L3.5)" />
    <Note x={64} y={253} size={10.2} text="2MASS J1219+3128 (L8)" />
    <Note x={66} y={416} size={10.2} text="2MASS J0348-6022 (T7)" />
    <Note x={428} y={24} size={8.9} text="2MASS J0407+1546 [3.6]" />
    <Note x={428} y={187} size={8.9} text="2MASS J1219+3128 [3.6]" />
    <Note x={428} y={341} size={8.9} text="2MASS J0348-6022 [4.5]" />

    <Title x={9} y={241} text="Normalized Flux" rotate font="Liberation Sans" size={15} />
    <Title x={377} y={241} text="Normalized Flux" rotate font="Liberation Sans" size={15} />
    <Title x={205} y={507} text="Time (hours)" font={serif} size={14} />
    <Title x={490} y={505} text="Phase" font={serif} size={14} />
  </div>
);

export default App;
